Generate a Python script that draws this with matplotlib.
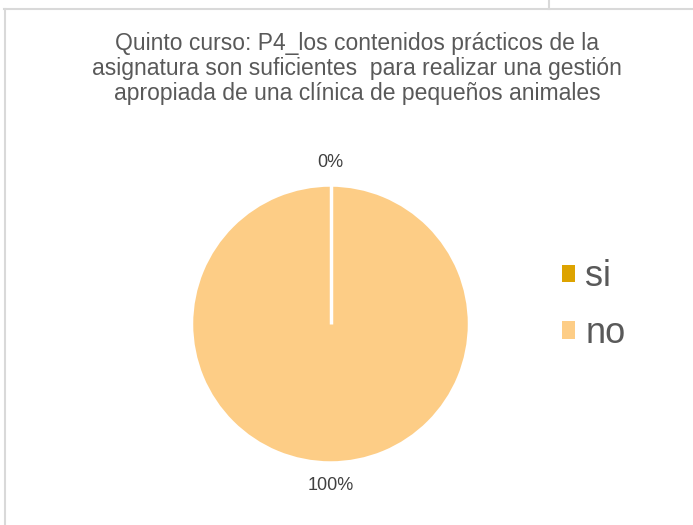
import numpy as np
import matplotlib.pyplot as plt
from matplotlib.lines import Line2D
from matplotlib.patches import Patch

plt.rcParams["font.family"] = ["Liberation Sans", "DejaVu Sans"]

labels = ["si", "no"]
values = [0, 100]
colors = ["#DDA300", "#FDCD86"]
title = ("Quinto curso: P4_los contenidos prácticos de la\n"
         "asignatura son suficientes  para realizar una gestión\n"
         "apropiada de una clínica de pequeños animales")

W, H = 693, 525
fig = plt.figure(figsize=(W / 100, H / 100), dpi=100)
fig.patch.set_facecolor("white")

# chart frame lines
border = "#d9d9d9"
fig.add_artist(Line2D([4.5 / W, 4.5 / W], [0, 1 - 9 / H], color=border, lw=1.5))
fig.add_artist(Line2D([4 / W, 1], [1 - 9 / H, 1 - 9 / H], color=border, lw=1.5))
fig.add_artist(Line2D([549 / W, 549 / W], [1 - 9 / H, 1], color=border, lw=1.5))

# pie axes positioned in pixels: centre (330.5, 324), radius ~139
cx, cy, r = 330.5, 324, 139
ax = fig.add_axes([(cx - r) / W, (H - cy - r) / H, 2 * r / W, 2 * r / H])

wedges, _, autotexts = ax.pie(
    values, colors=colors, startangle=90, counterclock=False,
    radius=1.0, autopct="%.0f%%", pctdistance=1.16,
    wedgeprops=dict(edgecolor="white", linewidth=2.5),
    textprops=dict(color="#404040", fontsize=13),
)
for t in autotexts:
    t.set_clip_on(False)
ax.set_xlim(-1, 1)
ax.set_ylim(-1, 1)
ax.set_aspect("auto")
ax.axis("off")

# slice boundaries (white separators)
bounds = np.cumsum([0] + values) / np.sum(values)
for b in np.unique(bounds % 1.0):
    ang = np.deg2rad(90 - 360 * b)
    ax.plot([0, np.cos(ang)], [0, np.sin(ang)], color="white", lw=2.5,
            solid_capstyle="butt")

fig.text(357 / W, 1 - 32 / H, title, ha="center", va="top", fontsize=16.5,
         color="#595959", linespacing=1.12)

handles = [Patch(facecolor=c, edgecolor="none") for c in colors]
fig.legend(handles, labels, loc="center left", bbox_to_anchor=(529 / W, 1 - 305 / H),
           frameon=False, fontsize=26, handlelength=0.36, handleheight=0.36,
           handletextpad=0.3, labelspacing=0.6, labelcolor="#595959")

fig.savefig("out.png", dpi=100, facecolor="white")
